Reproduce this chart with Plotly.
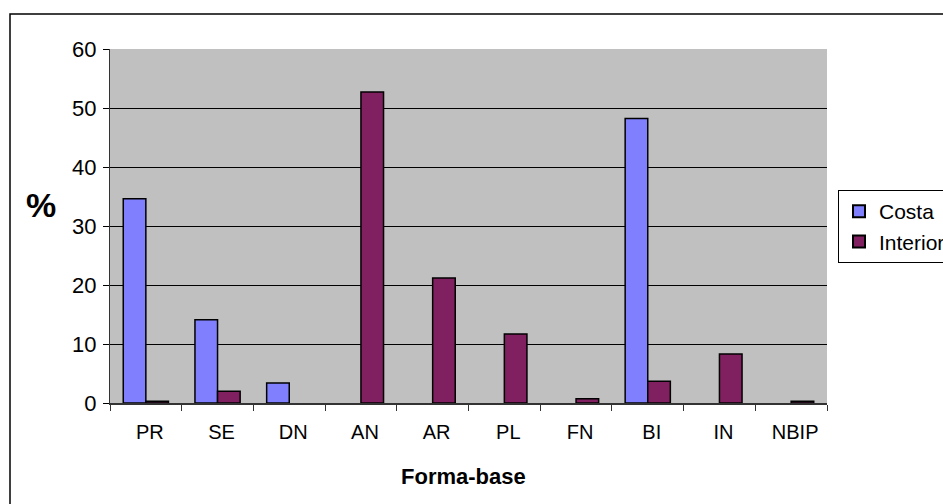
import plotly.graph_objects as go

# Percentage of each base form, by region
categorias = ["PR", "SE", "DN", "AN", "AR", "PL", "FN", "BI", "IN", "NBIP"]
costa = [34.6, 14.1, 3.4, 0, 0, 0, 0, 48.2, 0, 0]
interior = [0.3, 2.0, 0, 52.7, 21.2, 11.7, 0.7, 3.7, 8.3, 0.3]
y_ticks = [0, 10, 20, 30, 40, 50, 60]

W, H = 943, 504
ML, MR, MT, MB = 110, 116, 49, 101
pw, ph = W - ML - MR, H - MT - MB


def px_x(x):
    return (x - ML) / pw


def px_y(y):
    return (H - MB - y) / ph


def no_zero(values):
    # empty categories get no bar at all
    return [v if v else None for v in values]


fig = go.Figure()
fig.add_trace(go.Bar(
    x=categorias, y=no_zero(costa), name="Costa",
    marker=dict(color="#8080FF", line=dict(color="black", width=1.5)),
))
fig.add_trace(go.Bar(
    x=categorias, y=no_zero(interior), name="Interior",
    marker=dict(color="#802060", line=dict(color="black", width=1.5)),
))

fig.update_layout(
    width=W, height=H,
    margin=dict(l=ML, r=MR, t=MT, b=MB, pad=0, autoexpand=False),
    paper_bgcolor="white",
    plot_bgcolor="#C0C0C0",
    barmode="group",
    bargap=0.37,
    bargroupgap=0,
    font=dict(family="Arial, Liberation Sans, sans-serif", color="black"),
    showlegend=True,
    legend=dict(
        x=px_x(838), y=px_y(190), xanchor="left", yanchor="top",
        bordercolor="black", borderwidth=1, bgcolor="white",
        font=dict(size=21), itemsizing="constant",
    ),
    xaxis=dict(
        type="category",
        tickson="boundaries",
        ticks="outside", ticklen=6, tickcolor="#333333", tickwidth=1,
        showline=True, linecolor="#333333", linewidth=2,
        showgrid=False,
        tickfont=dict(size=20),
        ticklabelstandoff=10,
        ticklabelshift=4,
    ),
    yaxis=dict(
        range=[0, 60],
        tickvals=y_ticks,
        ticks="outside", ticklen=6, tickcolor="black", tickwidth=1,
        showline=True, linecolor="#333333", linewidth=1,
        showgrid=True, gridcolor="black", gridwidth=1,
        zeroline=False,
        tickfont=dict(size=22),
        ticklabelstandoff=2,
    ),
    shapes=[
        dict(
            type="rect", xref="paper", yref="paper",
            x0=px_x(10), x1=px_x(W + 20), y0=px_y(H + 20), y1=px_y(14),
            line=dict(color="black", width=1.5), fillcolor="rgba(0,0,0,0)",
            layer="below",
        ),
    ],
    annotations=[
        dict(
            text="<b>%</b>", xref="paper", yref="paper",
            x=px_x(41), y=px_y(205), xanchor="center", yanchor="middle",
            showarrow=False, font=dict(size=34),
        ),
        dict(
            text="<b>Forma-base</b>", xref="paper", yref="paper",
            x=px_x(463), y=px_y(476), xanchor="center", yanchor="middle",
            showarrow=False, font=dict(size=22),
        ),
    ],
)

fig.write_html("out.html")
